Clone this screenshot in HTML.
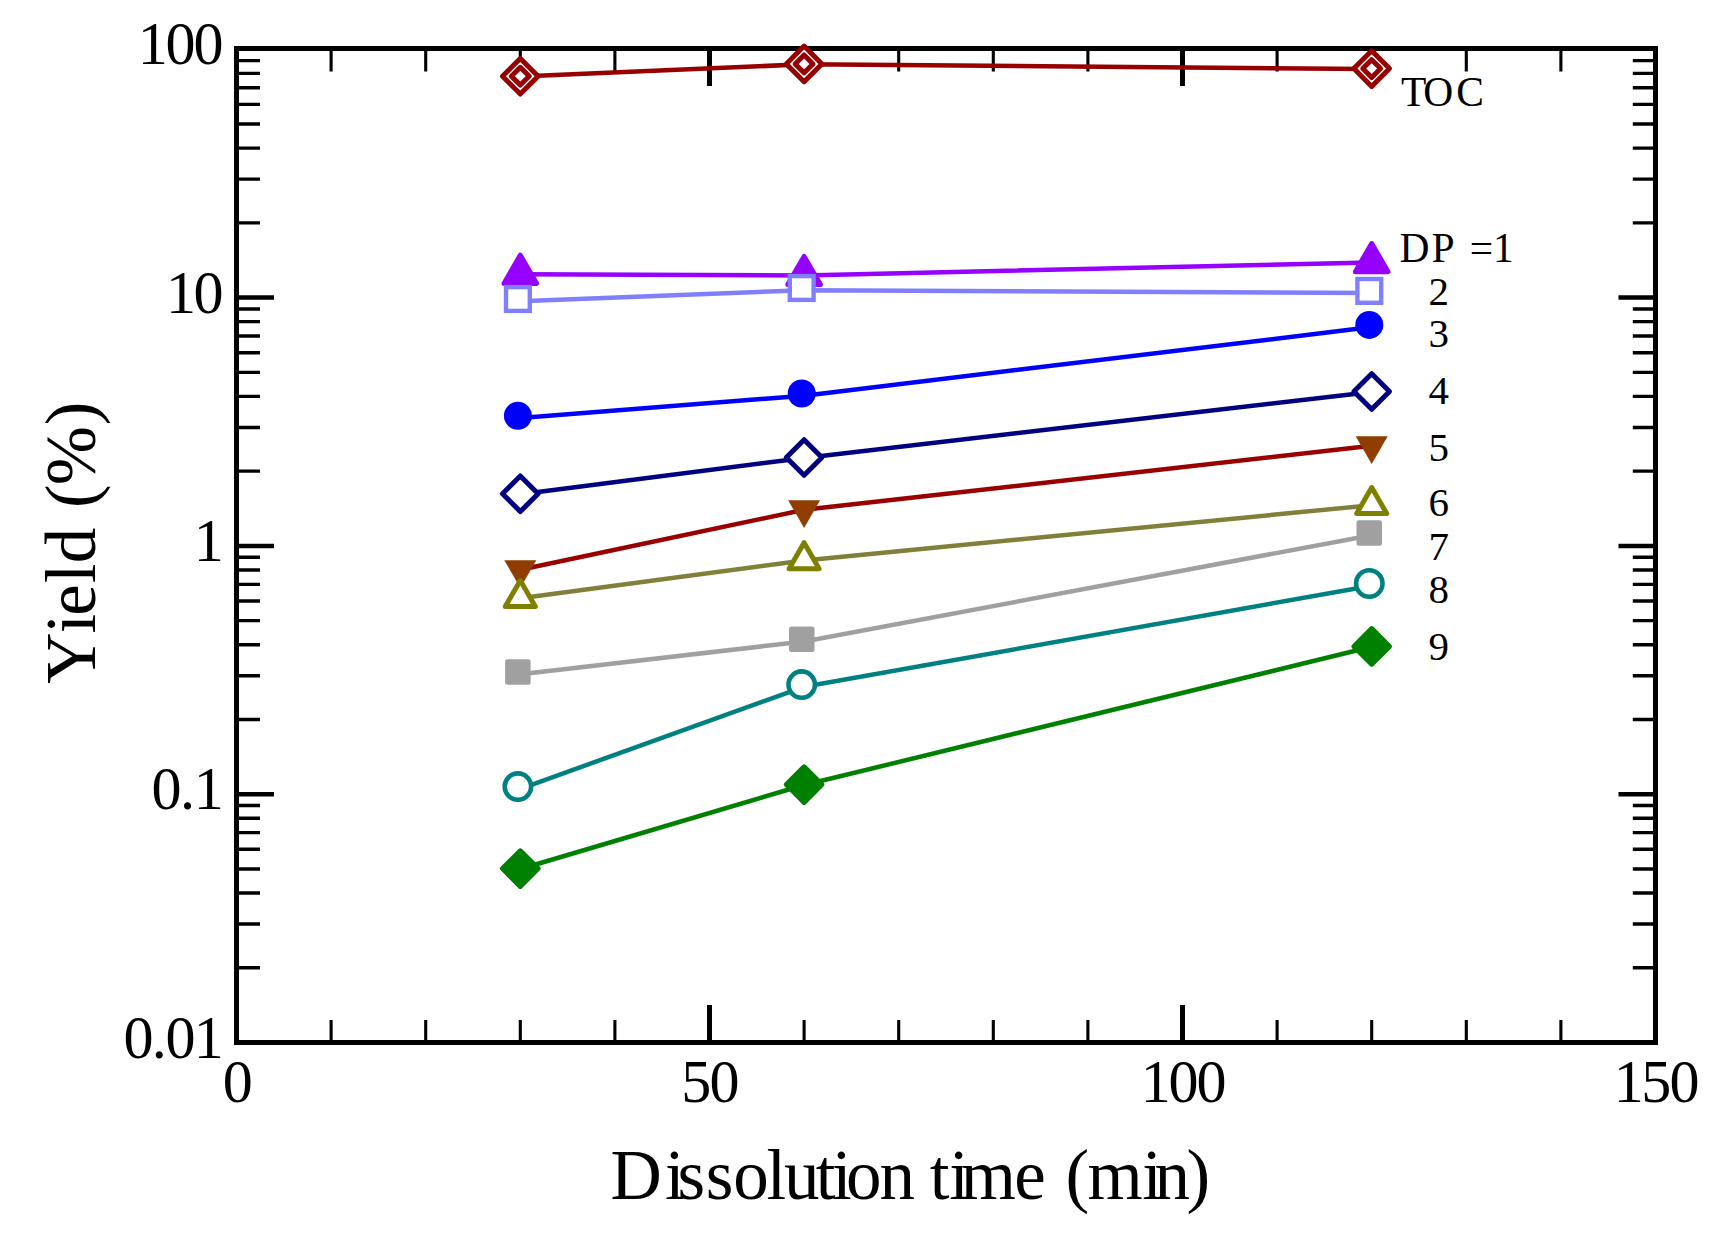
<!DOCTYPE html>
<html lang="en"><head><meta charset="utf-8"><title>Yield vs Dissolution time</title>
<style>html,body{margin:0;padding:0;background:#fff}body{width:1726px;height:1240px;overflow:hidden}svg{display:block}text{font-family:"Liberation Serif","Times New Roman",serif;fill:#000;white-space:pre}</style>
</head><body>
<svg width="1726" height="1240" viewBox="0 0 1726 1240">
<rect width="1726" height="1240" fill="#fff"/>
<g stroke="#000" stroke-linecap="butt" fill="none">
<path d="M238.5 967.75h21.5M1653.5 967.75h-20.7" stroke-width="3.4"/>
<path d="M238.5 924.03h21.5M1653.5 924.03h-20.7" stroke-width="3.4"/>
<path d="M238.5 893.01h21.5M1653.5 893.01h-20.7" stroke-width="3.4"/>
<path d="M238.5 868.95h21.5M1653.5 868.95h-20.7" stroke-width="3.4"/>
<path d="M238.5 849.29h21.5M1653.5 849.29h-20.7" stroke-width="3.4"/>
<path d="M238.5 832.66h21.5M1653.5 832.66h-20.7" stroke-width="3.4"/>
<path d="M238.5 818.26h21.5M1653.5 818.26h-20.7" stroke-width="3.4"/>
<path d="M238.5 805.56h21.5M1653.5 805.56h-20.7" stroke-width="3.4"/>
<path d="M238.5 794.20h35.5M1653.5 794.20h-35.0" stroke-width="4.5"/>
<path d="M238.5 719.45h21.5M1653.5 719.45h-20.7" stroke-width="3.4"/>
<path d="M238.5 675.73h21.5M1653.5 675.73h-20.7" stroke-width="3.4"/>
<path d="M238.5 644.71h21.5M1653.5 644.71h-20.7" stroke-width="3.4"/>
<path d="M238.5 620.65h21.5M1653.5 620.65h-20.7" stroke-width="3.4"/>
<path d="M238.5 600.99h21.5M1653.5 600.99h-20.7" stroke-width="3.4"/>
<path d="M238.5 584.36h21.5M1653.5 584.36h-20.7" stroke-width="3.4"/>
<path d="M238.5 569.96h21.5M1653.5 569.96h-20.7" stroke-width="3.4"/>
<path d="M238.5 557.26h21.5M1653.5 557.26h-20.7" stroke-width="3.4"/>
<path d="M238.5 545.90h35.5M1653.5 545.90h-35.0" stroke-width="4.5"/>
<path d="M238.5 471.15h21.5M1653.5 471.15h-20.7" stroke-width="3.4"/>
<path d="M238.5 427.43h21.5M1653.5 427.43h-20.7" stroke-width="3.4"/>
<path d="M238.5 396.41h21.5M1653.5 396.41h-20.7" stroke-width="3.4"/>
<path d="M238.5 372.35h21.5M1653.5 372.35h-20.7" stroke-width="3.4"/>
<path d="M238.5 352.69h21.5M1653.5 352.69h-20.7" stroke-width="3.4"/>
<path d="M238.5 336.06h21.5M1653.5 336.06h-20.7" stroke-width="3.4"/>
<path d="M238.5 321.66h21.5M1653.5 321.66h-20.7" stroke-width="3.4"/>
<path d="M238.5 308.96h21.5M1653.5 308.96h-20.7" stroke-width="3.4"/>
<path d="M238.5 297.60h35.5M1653.5 297.60h-35.0" stroke-width="4.5"/>
<path d="M238.5 222.85h21.5M1653.5 222.85h-20.7" stroke-width="3.4"/>
<path d="M238.5 179.13h21.5M1653.5 179.13h-20.7" stroke-width="3.4"/>
<path d="M238.5 148.11h21.5M1653.5 148.11h-20.7" stroke-width="3.4"/>
<path d="M238.5 124.05h21.5M1653.5 124.05h-20.7" stroke-width="3.4"/>
<path d="M238.5 104.39h21.5M1653.5 104.39h-20.7" stroke-width="3.4"/>
<path d="M238.5 87.76h21.5M1653.5 87.76h-20.7" stroke-width="3.4"/>
<path d="M238.5 73.36h21.5M1653.5 73.36h-20.7" stroke-width="3.4"/>
<path d="M238.5 60.66h21.5M1653.5 60.66h-20.7" stroke-width="3.4"/>
<path d="M331.10 50.5v21.0M331.10 1040.5v-20.5" stroke-width="3.1"/>
<path d="M425.70 50.5v21.0M425.70 1040.5v-20.5" stroke-width="3.1"/>
<path d="M520.30 50.5v21.0M520.30 1040.5v-20.5" stroke-width="3.1"/>
<path d="M614.90 50.5v21.0M614.90 1040.5v-20.5" stroke-width="3.1"/>
<path d="M709.50 50.5v35.5M709.50 1040.5v-35.5" stroke-width="5"/>
<path d="M804.10 50.5v21.0M804.10 1040.5v-20.5" stroke-width="3.1"/>
<path d="M898.70 50.5v21.0M898.70 1040.5v-20.5" stroke-width="3.1"/>
<path d="M993.30 50.5v21.0M993.30 1040.5v-20.5" stroke-width="3.1"/>
<path d="M1087.90 50.5v21.0M1087.90 1040.5v-20.5" stroke-width="3.1"/>
<path d="M1182.50 50.5v35.5M1182.50 1040.5v-35.5" stroke-width="5"/>
<path d="M1277.10 50.5v21.0M1277.10 1040.5v-20.5" stroke-width="3.1"/>
<path d="M1371.70 50.5v21.0M1371.70 1040.5v-20.5" stroke-width="3.1"/>
<path d="M1466.30 50.5v21.0M1466.30 1040.5v-20.5" stroke-width="3.1"/>
<path d="M1560.90 50.5v21.0M1560.90 1040.5v-20.5" stroke-width="3.1"/>
</g>
<rect x="236.5" y="48.5" width="1419.0" height="994.0" fill="none" stroke="#000" stroke-width="5"/>
<polyline points="520.3,76.6 804.1,64.3 1371.7,69.0" fill="none" stroke="#960000" stroke-width="4.5" stroke-linejoin="round"/>
<path d="M520.3 58.4L538.1 76.2L520.3 94.0L502.5 76.2Z" fill="#fff" stroke="#960000" stroke-width="5.0" stroke-linejoin="round"/>
<path d="M520.3 67.3L529.2 76.2L520.3 85.1L511.4 76.2Z" fill="#fff" stroke="#960000" stroke-width="5.0" stroke-linejoin="round"/>
<path d="M804.1 46.1L821.9 63.9L804.1 81.7L786.3 63.9Z" fill="#fff" stroke="#960000" stroke-width="5.0" stroke-linejoin="round"/>
<path d="M804.1 55.0L813.0 63.9L804.1 72.8L795.2 63.9Z" fill="#fff" stroke="#960000" stroke-width="5.0" stroke-linejoin="round"/>
<path d="M1371.7 50.8L1389.5 68.6L1371.7 86.4L1353.9 68.6Z" fill="#fff" stroke="#960000" stroke-width="5.0" stroke-linejoin="round"/>
<path d="M1371.7 59.7L1380.6 68.6L1371.7 77.5L1362.8 68.6Z" fill="#fff" stroke="#960000" stroke-width="5.0" stroke-linejoin="round"/>
<polyline points="520.3,274.2 804.1,275.4 1371.7,262.5" fill="none" stroke="#9600ff" stroke-width="4.5" stroke-linejoin="round"/>
<path d="M520.3 255.2L536.6 283.4L504.0 283.4Z" fill="#9600ff" stroke="#9600ff" stroke-width="5.0" stroke-linejoin="round"/>
<path d="M804.1 256.4L820.4 284.6L787.8 284.6Z" fill="#9600ff" stroke="#9600ff" stroke-width="5.0" stroke-linejoin="round"/>
<path d="M1371.7 243.5L1388.0 271.7L1355.4 271.7Z" fill="#9600ff" stroke="#9600ff" stroke-width="5.0" stroke-linejoin="round"/>
<polyline points="520.3,301.2 804.1,290.2 1371.7,293.1" fill="none" stroke="#8080ff" stroke-width="4.5" stroke-linejoin="round"/>
<rect x="506.0" y="287.1" width="23.8" height="23.8" fill="#fff" stroke="#8080ff" stroke-width="4.4" stroke-linejoin="miter"/>
<rect x="789.8" y="276.1" width="23.8" height="23.8" fill="#fff" stroke="#8080ff" stroke-width="4.4" stroke-linejoin="miter"/>
<rect x="1357.4" y="279.0" width="23.8" height="23.8" fill="#fff" stroke="#8080ff" stroke-width="4.4" stroke-linejoin="miter"/>
<polyline points="520.3,418.0 804.1,395.7 1371.7,327.1" fill="none" stroke="#0000ff" stroke-width="4.5" stroke-linejoin="round"/>
<circle cx="517.9" cy="415.8" r="14.0" fill="#0000ff" stroke="#0000ff" stroke-width="0.0"/>
<circle cx="801.7" cy="393.5" r="14.0" fill="#0000ff" stroke="#0000ff" stroke-width="0.0"/>
<circle cx="1369.3" cy="324.9" r="14.0" fill="#0000ff" stroke="#0000ff" stroke-width="0.0"/>
<polyline points="520.3,494.2 804.1,457.9 1371.7,391.9" fill="none" stroke="#000080" stroke-width="4.5" stroke-linejoin="round"/>
<path d="M520.3 476.0L538.1 493.8L520.3 511.6L502.5 493.8Z" fill="#fff" stroke="#000080" stroke-width="5.0" stroke-linejoin="round"/>
<path d="M804.1 439.7L821.9 457.5L804.1 475.3L786.3 457.5Z" fill="#fff" stroke="#000080" stroke-width="5.0" stroke-linejoin="round"/>
<path d="M1371.7 373.7L1389.5 391.5L1371.7 409.3L1353.9 391.5Z" fill="#fff" stroke="#000080" stroke-width="5.0" stroke-linejoin="round"/>
<polyline points="520.3,569.8 804.1,509.8 1371.7,445.8" fill="none" stroke="#990000" stroke-width="4.5" stroke-linejoin="round"/>
<path d="M520.3 587.9L536.3 560.2L504.3 560.2Z" fill="#913d00"/>
<path d="M804.1 527.9L820.1 500.2L788.1 500.2Z" fill="#913d00"/>
<path d="M1371.7 463.9L1387.7 436.2L1355.7 436.2Z" fill="#913d00"/>
<polyline points="520.3,598.2 804.1,560.4 1371.7,505.2" fill="none" stroke="#80803a" stroke-width="4.5" stroke-linejoin="round"/>
<path d="M520.3 580.5L535.3 606.5L505.3 606.5Z" fill="#fff" stroke="#808000" stroke-width="5.0" stroke-linejoin="round"/>
<path d="M804.1 542.7L819.1 568.7L789.1 568.7Z" fill="#fff" stroke="#808000" stroke-width="5.0" stroke-linejoin="round"/>
<path d="M1371.7 487.5L1386.7 513.5L1356.7 513.5Z" fill="#fff" stroke="#808000" stroke-width="5.0" stroke-linejoin="round"/>
<polyline points="520.3,674.2 804.1,641.5 1371.7,535.2" fill="none" stroke="#a0a0a0" stroke-width="4.5" stroke-linejoin="round"/>
<rect x="507.6" y="661.8" width="20.5" height="20.5" fill="#a0a0a0" stroke="#a0a0a0" stroke-width="5.0" stroke-linejoin="round"/>
<rect x="791.5" y="629.1" width="20.5" height="20.5" fill="#a0a0a0" stroke="#a0a0a0" stroke-width="5.0" stroke-linejoin="round"/>
<rect x="1359.0" y="522.8" width="20.5" height="20.5" fill="#a0a0a0" stroke="#a0a0a0" stroke-width="5.0" stroke-linejoin="round"/>
<polyline points="520.3,788.8 804.1,686.8 1371.7,585.7" fill="none" stroke="#008080" stroke-width="4.5" stroke-linejoin="round"/>
<circle cx="517.9" cy="786.6" r="13.2" fill="#fff" stroke="#008080" stroke-width="4.6"/>
<circle cx="801.7" cy="684.6" r="13.2" fill="#fff" stroke="#008080" stroke-width="4.6"/>
<circle cx="1369.3" cy="583.5" r="13.2" fill="#fff" stroke="#008080" stroke-width="4.6"/>
<polyline points="520.3,869.0 804.1,785.0 1371.7,646.8" fill="none" stroke="#008000" stroke-width="4.5" stroke-linejoin="round"/>
<path d="M520.3 850.8L538.1 868.6L520.3 886.4L502.5 868.6Z" fill="#008000" stroke="#008000" stroke-width="5.0" stroke-linejoin="round"/>
<path d="M804.1 766.8L821.9 784.6L804.1 802.4L786.3 784.6Z" fill="#008000" stroke="#008000" stroke-width="5.0" stroke-linejoin="round"/>
<path d="M1371.7 628.6L1389.5 646.4L1371.7 664.2L1353.9 646.4Z" fill="#008000" stroke="#008000" stroke-width="5.0" stroke-linejoin="round"/>
<text x="142.06 170.52 199.38" y="64.5" font-size="62.0"  transform="scale(0.970 1)">100</text>
<text x="171.03 199.38" y="312.8" font-size="62.0"  transform="scale(0.970 1)">10</text>
<text x="199.79" y="561.1" font-size="62.0"  transform="scale(0.970 1)">1</text>
<text x="156.08 185.46 199.79" y="809.4" font-size="62.0"  transform="scale(0.970 1)">0.1</text>
<text x="127.32 156.39 170.62 199.69" y="1057.7" font-size="62.0"  transform="scale(0.970 1)">0.01</text>
<text x="229.59" y="1102.4" font-size="62.0"  transform="scale(0.970 1)">0</text>
<text x="702.37 731.55" y="1102.4" font-size="62.0"  transform="scale(0.970 1)">50</text>
<text x="1176.08 1204.54 1233.51" y="1102.4" font-size="62.0"  transform="scale(0.970 1)">100</text>
<text x="1663.61 1692.06 1721.13" y="1102.4" font-size="62.0"  transform="scale(0.970 1)">150</text>
<text x="610.50 665.00 677.60 705.80 733.30 766.50 784.10 815.70 832.00 846.00 879.40 913.00 929.70 949.20 960.80 1014.20 1045.00 1065.60 1087.50 1142.30 1154.40 1186.60" y="1198.8" font-size="71.0" >Dissolution time (min)</text>
<text x="-683.80 -633.40 -615.70 -583.30 -563.20 -530.00 -507.90 -485.30 -425.20" y="0.0" font-size="71.0" transform="translate(95 0) rotate(-90)">Yield (%)</text>
<text x="1401.00 1423.30 1456.30" y="106.0" font-size="41.5" >TOC</text>
<text x="1399.60 1431.60 1458.00 1469.80 1493.00" y="262.0" font-size="41.5" >DP =1</text>
<text x="1428.60" y="305.0" font-size="41.0" >2</text>
<text x="1428.60" y="346.8" font-size="41.0" >3</text>
<text x="1428.60" y="403.8" font-size="41.0" >4</text>
<text x="1428.60" y="460.8" font-size="41.0" >5</text>
<text x="1428.60" y="516.4" font-size="41.0" >6</text>
<text x="1428.60" y="560.0" font-size="41.0" >7</text>
<text x="1428.60" y="602.7" font-size="41.0" >8</text>
<text x="1428.60" y="660.1" font-size="41.0" >9</text>
</svg></body></html>
